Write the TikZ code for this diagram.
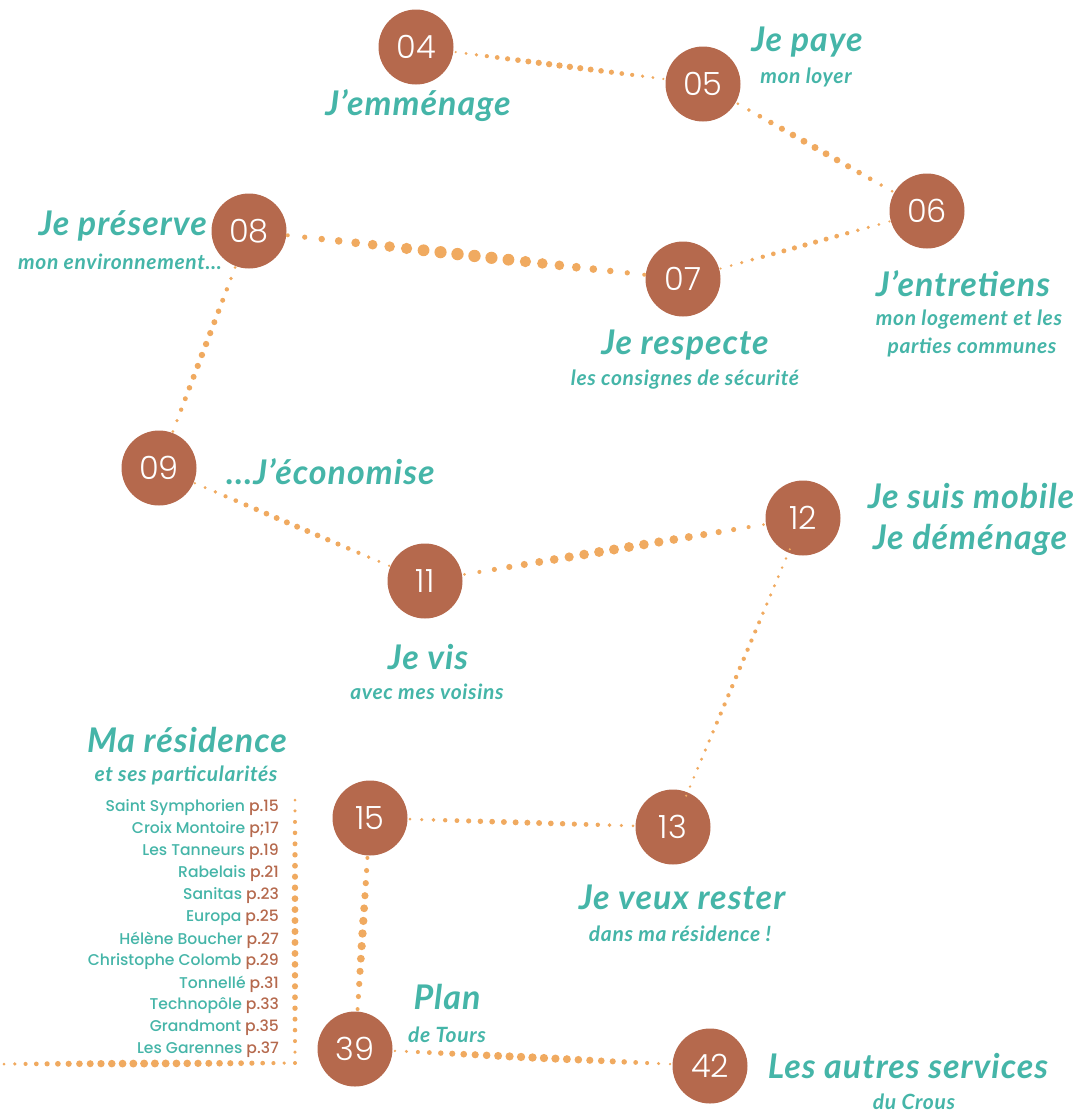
\documentclass[tikz,border=0pt]{standalone}
\usepackage{fontspec}
\setmainfont{Poppins}
\newfontfamily\numf{Poppins}[UprightFont=* Light]
\newfontfamily\lstf{Poppins}[UprightFont=* Medium]
\newfontfamily\scr{Lato}[LetterSpace=3]
\usetikzlibrary{calc}
\definecolor{brn}{HTML}{B5694D}
\definecolor{tea}{HTML}{45B5A8}
\definecolor{org}{HTML}{F0AA60}
\tikzset{
  num/.style={circle, fill=brn, minimum size=75pt, inner sep=0pt, text=white, font=\numf\fontsize{32}{32}\selectfont},
  big/.style={text=tea, font=\scr\bfseries\itshape\fontsize{34}{36}\selectfont, inner sep=0pt},
  small/.style={text=tea, font=\scr\bfseries\itshape\fontsize{21}{24}\selectfont, inner sep=0pt},
  lst/.style={text=tea, font=\lstf\fontsize{15.6}{17}\selectfont, anchor=east, inner sep=0pt},
}
\newcommand\dotln[5]{%
  \foreach \i in {0,...,#3}{%
    \pgfmathsetmacro\dtt{\i/#3}%
    \pgfmathsetmacro\drr{#4+(#5-#4)*sin(180*\dtt)}%
    \fill[org] ($(#1)!\dtt!(#2)$) circle[radius=\drr pt];
  }}
\newcommand\dotsbetween[6]{% node a, node b, n, rmin, rmax, gap
  \path ($(#1)!#6pt!(#2)$) coordinate (pa) ($(#2)!#6pt!(#1)$) coordinate (pb);
  \dotln{pa}{pb}{#3}{#4}{#5}}
\begin{document}
\begin{tikzpicture}[x=1pt,y=-1pt]
\useasboundingbox (0,0) rectangle (1079,1112);
% nodes
\node[num] (n04) at (416,47) {04};
\node[num] (n05) at (703,84) {05};
\node[num] (n06) at (927,211) {06};
\node[num] (n07) at (683,279) {07};
\node[num] (n08) at (249,231) {08};
\node[num] (n09) at (159,468) {09};
\node[num] (n11) at (425,581) {11};
\node[num] (n12) at (803,518) {12};
\node[num] (n13) at (673,827) {13};
\node[num] (n15) at (370,818) {15};
\node[num] (n39) at (355,1049) {39};
\node[num] (n42) at (710,1066) {42};
% connectors
\dotsbetween{n04}{n05}{20}{1.2}{3.2}{40}
\dotsbetween{n05}{n06}{14}{1.5}{3.5}{40}
\dotsbetween{n06}{n07}{16}{1.2}{2.6}{39}
\dotsbetween{n08}{n07}{21}{2}{6.2}{39}
\dotsbetween{n08}{n09}{15}{1.5}{3.2}{39}
\dotsbetween{n09}{n11}{19}{1.3}{3}{39}
\dotsbetween{n11}{n12}{20}{1.5}{5}{40}
\dotsbetween{n12}{n13}{27}{1.2}{2.2}{34}
\dotsbetween{n15}{n13}{19}{1.5}{3}{40}
\dotsbetween{n15}{n39}{12}{2}{4.2}{40}
\dotsbetween{n39}{n42}{24}{1.3}{4.2}{40}
\coordinate (lt) at (295,800);
\coordinate (lc) at (295,1063);
\coordinate (ll) at (4,1064);
\dotln{lt}{lc}{24}{1.5}{3.5}
\dotln{lc}{ll}{27}{1.5}{4}
\fill[org] (lc) circle[radius=2pt];
% labels
\node[big] (t04) at (418,106) {J’emménage};
\node[big] (t05a) at (807,42) {Je paye};
\node[small] (t05b) at (806,77) {mon loyer};
\node[big, anchor=east] (t08a) at (207,226) {Je préserve};
\node[small, anchor=east] (t08b) at (222,262) {mon environnement…};
\node[big] (t06a) at (963,284) {J’entretiens};
\node[small] (t06b) at (969,320) {mon logement et les};
\node[small] (t06c) at (972,347) {parties communes};
\node[big] (t07a) at (685,345) {Je respecte};
\node[small] (t07b) at (685,380) {les consignes de sécurité};
\node[big, anchor=west] (t09) at (226,472) {…J’économise};
\node[big] (t12a) at (971,496) {Je suis mobile};
\node[big] (t12b) at (970,540) {Je déménage};
\node[big] (t11a) at (428,657) {Je vis};
\node[small] (t11b) at (427,692) {avec mes voisins};
\node[big] (t15a) at (187,740) {Ma résidence};
\node[small] (t15b) at (186,775) {et ses particularités};
\node[big] (t13a) at (682,897) {Je veux rester};
\node[small] (t13b) at (680,934) {dans ma résidence !};
\node[big] (t39a) at (447,997) {Plan};
\node[small] (t39b) at (447,1035) {de Tours};
\node[big] (t42a) at (908,1066) {Les autres services};
\node[small] (t42b) at (914,1102) {du Crous};
% list
\node[lst] (l1) at (279,808) {Saint Symphorien \textcolor{brn}{p.15}};
\node[lst] (l2) at (279,830) {Croix Montoire \textcolor{brn}{p;17}};
\node[lst] (l3) at (279,852) {Les Tanneurs \textcolor{brn}{p.19}};
\node[lst] (l4) at (279,874) {Rabelais \textcolor{brn}{p.21}};
\node[lst] (l5) at (279,896) {Sanitas \textcolor{brn}{p.23}};
\node[lst] (l6) at (279,918) {Europa \textcolor{brn}{p.25}};
\node[lst] (l7) at (279,940) {Hélène Boucher \textcolor{brn}{p.27}};
\node[lst] (l8) at (279,962) {Christophe Colomb \textcolor{brn}{p.29}};
\node[lst] (l9) at (279,984) {Tonnellé \textcolor{brn}{p.31}};
\node[lst] (l10) at (279,1006) {Technopôle \textcolor{brn}{p.33}};
\node[lst] (l11) at (279,1028) {Grandmont \textcolor{brn}{p.35}};
\node[lst] (l12) at (279,1050) {Les Garennes \textcolor{brn}{p.37}};
\end{tikzpicture}
\end{document}
